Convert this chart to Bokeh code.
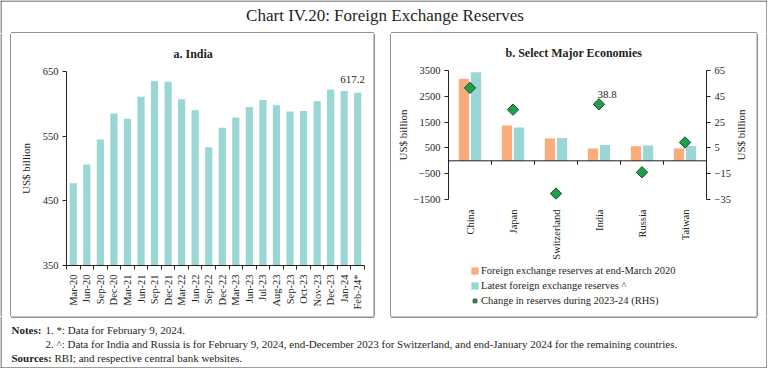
import math
from bokeh.plotting import figure
from bokeh.layouts import column, row
from bokeh.models import (Range1d, LinearAxis, FixedTicker, Span, Legend, LegendItem)
from bokeh.core.properties import value
from bokeh.embed import file_html
from bokeh.resources import INLINE

# ---------------- data ----------------
india_months = ["Mar-20", "Jun-20", "Sep-20", "Dec-20", "Mar-21", "Jun-21", "Sep-21",
                "Dec-21", "Mar-22", "Jun-22", "Sep-22", "Dec-22", "Mar-23", "Jun-23",
                "Jul-23", "Aug-23", "Sep-23", "Oct-23", "Nov-23", "Dec-23", "Jan-24",
                "Feb-24*"]
india_reserves = [477, 506, 545, 585, 577, 611, 635, 634, 607, 590, 533, 563, 579,
                  595, 606, 598, 588, 589, 604, 622, 620, 617.2]
india_yticks = [350, 450, 550, 650]

economies = ["China", "Japan", "Switzerland", "India", "Russia", "Taiwan"]
fx_mar2020 = [3180, 1370, 860, 478, 565, 480]
fx_latest = [3430, 1290, 885, 617, 590, 575]
change_2324 = [51.5, 34.6, -30.4, 38.8, -13.9, 9.2]
lhs_ticks = [-1500, -500, 500, 1500, 2500, 3500]
rhs_ticks = [-35, -15, 5, 25, 45, 65]

legend_labels = ["Foreign exchange reserves at end-March 2020",
                 "Latest foreign exchange reserves ^",
                 "Change in reserves during 2023-24 (RHS)"]

main_title = "Chart IV.20: Foreign Exchange Reserves"
title_a = "a. India"
title_b = "b. Select Major Economies"
y_title = "US$ billion"
note_bold = ["Notes:", "Sources:"]
note_lines = ["1. *: Data for February 9, 2024.",
              "2. ^: Data for India and Russia is for February 9, 2024, end-December 2023 "
              "for Switzerland, and end-January 2024 for the remaining countries.",
              "RBI; and respective central bank websites."]

# ---------------- style ----------------
FONT = "Liberation Serif"
TXT = "#231F20"
OUTER = "#3a3a3a"
PANEL = "#262626"
TEAL = "#99D6D4"
ORANGE = "#F9AC7C"
GREEN = "#1EA04A"
DKGREEN = "#1C4A2C"
TICK_FS = "10.5px"

W = 767
H_TOP, H_MID, H_BOT = 33, 283, 52
W_L, W_A, W_M, W_B, W_R = 11, 362, 18, 365, 11
W_RLAB = 23                # strip holding the right-hand axis title
H_B1 = 229                 # chart part of panel b
H_B2 = H_MID - H_B1        # legend part of panel b
PA = (10.5, 373.5)         # panel a box x
PB = (390.5, 756.5)        # panel b box x


def blank_fig(w, h, flip=True):
    yr_ = Range1d(h, 0) if flip else Range1d(0, h)
    f = figure(width=w, height=h, x_range=Range1d(0, w), y_range=yr_,
               output_backend="svg", toolbar_location=None,
               x_axis_location=None, y_axis_location=None, min_border=0)
    f.frame_align = False
    f.grid.visible = False
    f.outline_line_color = None
    f.background_fill_color = "white"
    f.border_fill_color = "white"
    return f


def style_axis(ax):
    ax.axis_line_color = TXT
    ax.major_tick_line_color = TXT
    ax.minor_tick_line_color = TXT
    ax.major_label_text_font = FONT
    ax.major_label_text_font_size = TICK_FS
    ax.major_label_text_color = TXT
    ax.axis_label_text_font = FONT
    ax.axis_label_text_font_size = "11px"
    ax.axis_label_text_font_style = "normal"
    ax.axis_label_text_color = TXT


def style_title(f, text, offset, standoff):
    f.title.text = text
    f.title.align = "left"
    f.title.offset = offset
    f.title.standoff = standoff
    f.title.text_font = FONT
    f.title.text_font_size = "12px"
    f.title.text_font_style = "bold"
    f.title.text_color = TXT


def vlines(f, xs, h, color):
    f.segment(x0=xs, y0=[0] * len(xs), x1=xs, y1=[h] * len(xs),
              line_color=color, line_width=1)


# ---------------- title strip ----------------
tf = blank_fig(W, H_TOP)
tf.segment(x0=[0], y0=[0.5], x1=[W], y1=[0.5], line_color=OUTER, line_width=1)
vlines(tf, [0.5, W - 0.5], H_TOP, OUTER)
tf.segment(x0=[PA[0], PB[0]], y0=[H_TOP - 0.5] * 2, x1=[PA[1], PB[1]], y1=[H_TOP - 0.5] * 2,
           line_color=PANEL, line_width=1)
tf.segment(x0=[PA[0], PA[1], PB[0], PB[1]], y0=[H_TOP - 0.5] * 4,
           x1=[PA[0], PA[1], PB[0], PB[1]], y1=[H_TOP] * 4, line_color=PANEL, line_width=1)
tf.text(x=[W / 2 + 1], y=[15], text=[main_title], text_align="center",
        text_baseline="middle", text_font=value(FONT), text_font_size="17px",
        text_color=TXT)

# ---------------- spacers carrying the vertical borders ----------------
sl = blank_fig(W_L, H_MID)
vlines(sl, [0.5], H_MID, OUTER)
vlines(sl, [W_L - 0.5], H_MID, PANEL)
sm = blank_fig(W_M, H_MID)
vlines(sm, [0.5, W_M - 0.5], H_MID, PANEL)
sr = blank_fig(W_R, H_MID)
vlines(sr, [0.5], H_MID, PANEL)
vlines(sr, [W_R - 0.5], H_MID, OUTER)

# ---------------- panel a: India ----------------
n_a = len(india_months)
centers_a = [i + 0.5 for i in range(n_a)]
fa = figure(width=W_A, height=H_MID, x_range=Range1d(0, n_a),
            y_range=Range1d(india_yticks[0], india_yticks[-1]),
            output_backend="svg", toolbar_location=None,
            min_border_left=55, min_border_right=9, min_border_top=36,
            min_border_bottom=51)
fa.frame_align = False
fa.grid.visible = False
fa.outline_line_color = None
fa.background_fill_color = "white"
fa.border_fill_color = "white"

fa.vbar(x=centers_a, top=india_reserves, bottom=india_yticks[0], width=0.53,
        fill_color=TEAL, line_color=None)
fa.text(x=[centers_a[-1]], y=[india_reserves[-1]], text=[f"{india_reserves[-1]:.1f}"],
        x_offset=-5, y_offset=-13, text_align="center", text_baseline="middle",
        text_font=value(FONT), text_font_size="11px", text_color=TXT)

ya = fa.yaxis[0]
ya.ticker = FixedTicker(ticks=india_yticks)
ya.major_tick_out = 4
ya.major_tick_in = 0
ya.minor_tick_out = 0
ya.minor_tick_in = 0
ya.major_label_standoff = 4
style_axis(ya)
ya.axis_label = y_title
ya.axis_label_standoff = 8

xa = fa.xaxis[0]
xa.ticker = FixedTicker(ticks=centers_a, minor_ticks=list(range(n_a + 1)))
xa.major_label_overrides = {c: m for c, m in zip(centers_a, india_months)}
xa.major_tick_out = 0
xa.major_tick_in = 0
xa.minor_tick_out = 4
xa.minor_tick_in = 0
xa.major_label_orientation = math.pi / 2
xa.major_label_standoff = 5
style_axis(xa)

style_title(fa, title_a, 107, 22)

# ---------------- panel b: major economies ----------------
n_b = len(economies)
centers_b = [i + 0.5 for i in range(n_b)]
W_B1 = W_B - W_RLAB
fb = figure(width=W_B1, height=H_B1, x_range=Range1d(0, n_b),
            y_range=Range1d(lhs_ticks[0], lhs_ticks[-1]),
            output_backend="svg", toolbar_location=None,
            min_border_left=57, min_border_right=W_B1 - 318, min_border_top=35,
            min_border_bottom=61)
fb.frame_align = False
fb.extra_y_ranges = {"rhs": Range1d(rhs_ticks[0], rhs_ticks[-1])}
fb.grid.visible = False
fb.outline_line_color = None
fb.background_fill_color = "white"
fb.border_fill_color = "white"

off, bw = 0.14, 0.24
fb.vbar(x=[c - off for c in centers_b], top=fx_mar2020, bottom=0, width=bw,
        fill_color=ORANGE, line_color=None)
fb.vbar(x=[c + off for c in centers_b], top=fx_latest, bottom=0, width=bw,
        fill_color=TEAL, line_color=None)

fb.add_layout(Span(location=0, dimension="width", line_color=TXT, line_width=1))
units_per_px = (lhs_ticks[-1] - lhs_ticks[0]) / 133.0
bounds = list(range(1, n_b))
fb.segment(x0=bounds, y0=[0] * len(bounds), x1=bounds,
           y1=[-4 * units_per_px] * len(bounds), line_color=TXT, line_width=1)

fb.scatter(x=centers_b, y=change_2324, y_range_name="rhs", marker="square",
           angle=math.pi / 4, size=8, fill_color=GREEN, line_color=DKGREEN,
           line_width=1)
fb.text(x=[centers_b[3]], y=[change_2324[3]], y_range_name="rhs",
        text=[f"{change_2324[3]:.1f}"], x_offset=8, y_offset=-10, text_align="center",
        text_baseline="middle", text_font=value(FONT), text_font_size="11px",
        text_color=TXT)

yb = fb.yaxis[0]
yb.ticker = FixedTicker(ticks=lhs_ticks)
yb.major_tick_out = 4
yb.major_tick_in = 0
yb.minor_tick_out = 0
yb.minor_tick_in = 0
yb.major_label_standoff = 4
style_axis(yb)
yb.axis_label = y_title
yb.axis_label_standoff = 2

yr = LinearAxis(y_range_name="rhs", ticker=FixedTicker(ticks=rhs_ticks))
yr.major_tick_out = 4
yr.major_tick_in = 0
yr.minor_tick_out = 0
yr.minor_tick_in = 0
yr.major_label_standoff = 4
style_axis(yr)
fb.add_layout(yr, "right")

xb = fb.xaxis[0]
xb.ticker = FixedTicker(ticks=centers_b)
xb.major_label_overrides = {c: e for c, e in zip(centers_b, economies)}
xb.axis_line_color = None
xb.major_tick_line_color = None
xb.minor_tick_line_color = None
xb.major_label_orientation = math.pi / 2
xb.major_label_standoff = 4
xb.major_label_text_font = FONT
xb.major_label_text_font_size = TICK_FS
xb.major_label_text_color = TXT

style_title(fb, title_b, 57, 21)

# right-hand axis title (reads bottom to top, like the left one)
rl = blank_fig(W_RLAB, H_B1, flip=False)
frame_mid_from_bottom = H_B1 - (35 + 133 / 2)
rl.text(x=[7], y=[frame_mid_from_bottom], text=[y_title], angle=math.pi / 2,
        text_align="center", text_baseline="middle", text_font=value(FONT),
        text_font_size="11px", text_color=TXT)

# legend of panel b, in its own strip under the chart (stand-in renderers that
# draw nothing on the strip itself: zero-height bars and an off-strip marker)
lg = blank_fig(W_B, H_B2)
l_old = lg.vbar(x=[0], top=[0], bottom=[0], width=0, fill_color=ORANGE, line_color=None)
l_new = lg.vbar(x=[0], top=[0], bottom=[0], width=0, fill_color=TEAL, line_color=None)
l_chg = lg.scatter(x=[-50], y=[-50], marker="square", angle=math.pi / 4, size=8,
                   fill_color=GREEN, line_color=DKGREEN, line_width=1)
legend = Legend(items=[LegendItem(label=legend_labels[0], renderers=[l_old]),
                       LegendItem(label=legend_labels[1], renderers=[l_new]),
                       LegendItem(label=legend_labels[2], renderers=[l_chg])],
                location=(79, 10), orientation="vertical", padding=0, margin=0,
                spacing=3, label_height=12, glyph_height=9, glyph_width=9,
                label_standoff=2, border_line_color=None, background_fill_alpha=0,
                label_text_font=FONT, label_text_font_size="10.5px",
                label_text_color=TXT)
lg.add_layout(legend, "center")

# ---------------- notes strip ----------------
nf = blank_fig(W, H_BOT)
nf.segment(x0=[0], y0=[H_BOT - 0.5], x1=[W], y1=[H_BOT - 0.5], line_color=OUTER,
           line_width=1)
vlines(nf, [0.5, W - 0.5], H_BOT, OUTER)
nf.segment(x0=[PA[0], PB[0]], y0=[0.5] * 2, x1=[PA[1], PB[1]], y1=[0.5] * 2,
           line_color=PANEL, line_width=1)
nf.segment(x0=[PA[0], PA[1], PB[0], PB[1]], y0=[0] * 4,
           x1=[PA[0], PA[1], PB[0], PB[1]], y1=[0.5] * 4, line_color=PANEL, line_width=1)
nf.text(x=[11, 11], y=[13, 41], text=note_bold, text_align="left", text_baseline="middle",
        text_font=value(FONT), text_font_size="11px", text_font_style="bold",
        text_color=TXT)
nf.text(x=[45, 45, 54], y=[13, 27.5, 41], text=note_lines, text_align="left",
        text_baseline="middle", text_font=value(FONT), text_font_size="11px",
        text_color=TXT)

panel_b = column(row(fb, rl, spacing=0), lg, spacing=0)
layout = column(tf, row(sl, fa, sm, panel_b, sr, spacing=0), nf, spacing=0)
open("out.html", "w").write(file_html(layout, INLINE))
